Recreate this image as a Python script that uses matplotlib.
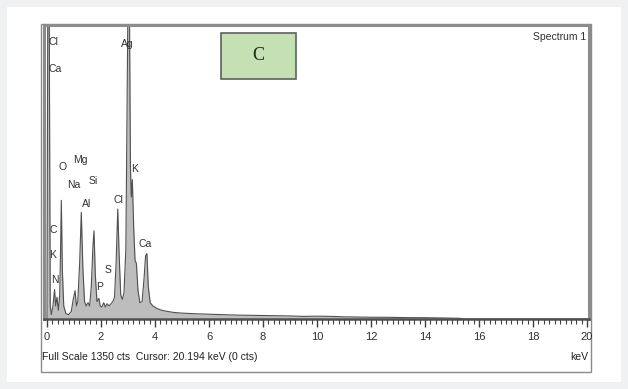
import matplotlib.pyplot as plt
from matplotlib.patches import Rectangle
from matplotlib.ticker import MultipleLocator

# spectrum (keV, counts)
energy = [0.00, 0.03, 0.08, 0.12, 0.16, 0.22, 0.28, 0.32, 0.37, 0.42, 0.47, 0.50,
          0.53, 0.57, 0.62, 0.70, 0.80, 0.90, 0.97, 1.04, 1.09, 1.14, 1.21, 1.27,
          1.33, 1.39, 1.45, 1.52, 1.58, 1.64, 1.70, 1.74, 1.79, 1.85, 1.92, 1.97,
          2.03, 2.10, 2.16, 2.22, 2.30, 2.37, 2.44, 2.50, 2.56, 2.62, 2.67, 2.73,
          2.79, 2.85, 2.92, 2.96, 3.00, 3.05, 3.09, 3.12, 3.16, 3.21, 3.26, 3.31, 3.37,
          3.44, 3.52, 3.59, 3.65, 3.70, 3.75, 3.82, 3.92, 4.05, 4.20, 4.40, 4.70,
          5.00, 5.50, 6.00, 6.50, 7.00, 7.50, 8.00, 8.50, 9.00, 9.50, 10.0, 10.5,
          11.0, 11.5, 12.0, 12.5, 13.0, 13.5, 14.0, 14.5, 15.0, 15.3, 15.4, 20.0]
counts = [0, 1500, 1500, 60, 20, 60, 135, 60, 100, 40, 110, 300,
          545, 220, 60, 25, 20, 35, 90, 130, 60, 80, 260, 490,
          230, 80, 60, 75, 60, 150, 330, 405, 200, 80, 95, 60,
          55, 75, 55, 70, 60, 70, 80, 100, 260, 505, 300, 110,
          90, 120, 320, 900, 1500, 1500, 700, 560, 640, 420, 270, 255, 130,
          75, 80, 180, 290, 300, 150, 75, 60, 50, 42, 36, 30,
          27, 24, 22, 20, 18, 17, 16, 15, 14, 12, 13, 12,
          10, 9, 8, 8, 7, 6, 6, 5, 4, 3, 0, 0]

# element labels: (text, keV, counts)
labels = [('Cl', 0.05, 1270), ('Ca', 0.05, 1150), ('Ag', 2.98, 1265),
          ('O', 0.56, 700), ('Mg', 1.22, 730), ('Na', 1.00, 615),
          ('Si', 1.70, 635), ('Al', 1.48, 530), ('Cl', 2.63, 545),
          ('K', 3.24, 690), ('Ca', 3.63, 345), ('S', 2.26, 225),
          ('P', 1.96, 145), ('C', 0.22, 410), ('K', 0.19, 295), ('N', 0.30, 180)]

xticks = list(range(0, 21, 2))

narrow = ['Liberation Sans Narrow', 'Liberation Sans', 'DejaVu Sans']

fig = plt.figure(figsize=(6.28, 3.89), dpi=100, facecolor='#eff1f3')
# white panel
fig.patches.append(Rectangle((7 / 628, 1 - 382 / 389), 614 / 628, 375 / 389,
                             transform=fig.transFigure, facecolor='white',
                             edgecolor='none', zorder=-2))
# outer thin box
fig.patches.append(Rectangle((41 / 628, 1 - 372 / 389), 550 / 628, 348 / 389,
                             transform=fig.transFigure, facecolor='none',
                             edgecolor='#8a8a8a', lw=1.0, zorder=-1))

ax = fig.add_axes([44 / 628, 1 - 319 / 389, 545 / 628, 294 / 389])
ax.set_zorder(2)
ax.set_facecolor('white')
ax.fill_between(energy, counts, color='#bdbdbd', lw=0)
ax.plot(energy, counts, color='#505050', lw=0.8)
ax.set_xlim(-0.111, 20.07)
ax.set_ylim(0, 1350)
ax.set_yticks([])
ax.set_xticks(xticks)
ax.xaxis.set_minor_locator(MultipleLocator(0.2))
ax.tick_params(axis='x', which='major', length=6, width=1, color='#404040',
               labelsize=8, labelcolor='#303030', pad=3)
ax.tick_params(axis='x', which='minor', length=3.5, width=0.8, color='#404040')
for t in ax.get_xticklabels():
    t.set_family(narrow)
for side in ['top', 'left', 'right']:
    ax.spines[side].set_color('#8c8c8c')
    ax.spines[side].set_linewidth(2.2)
ax.spines['bottom'].set_color('#505050')
ax.spines['bottom'].set_linewidth(1.8)

for txt, e, c in labels:
    ax.text(e, c, txt, fontsize=7.5, family=narrow, color='#303030',
            ha='center' if e > 0.1 else 'left', va='center')

ax.text(0.995, 0.96, 'Spectrum 1', transform=ax.transAxes, fontsize=7.5,
        family=narrow, color='#303030', ha='right', va='center')

# "C" panel tag
ax.add_patch(Rectangle((221 / 628, 1 - 79 / 389), 75 / 628, 46 / 389,
                       transform=fig.transFigure, facecolor='#c5e0b3',
                       edgecolor='#606060', lw=1.2, zorder=5, clip_on=False))
ax.text(258.5 / 628, 1 - 56 / 389, 'C', transform=fig.transFigure, fontsize=13,
        family='Liberation Serif', color='#202020', ha='center', va='center',
        zorder=6)

fig.text(42 / 628, 1 - 357 / 389, 'Full Scale 1350 cts  Cursor: 20.194 keV (0 cts)',
         fontsize=7.5, family=narrow, color='#202020', ha='left', va='center')
fig.text(588 / 628, 1 - 357 / 389, 'keV', fontsize=7.5, family=narrow,
         color='#202020', ha='right', va='center')

fig.savefig('out.png', dpi=100, facecolor=fig.get_facecolor())
